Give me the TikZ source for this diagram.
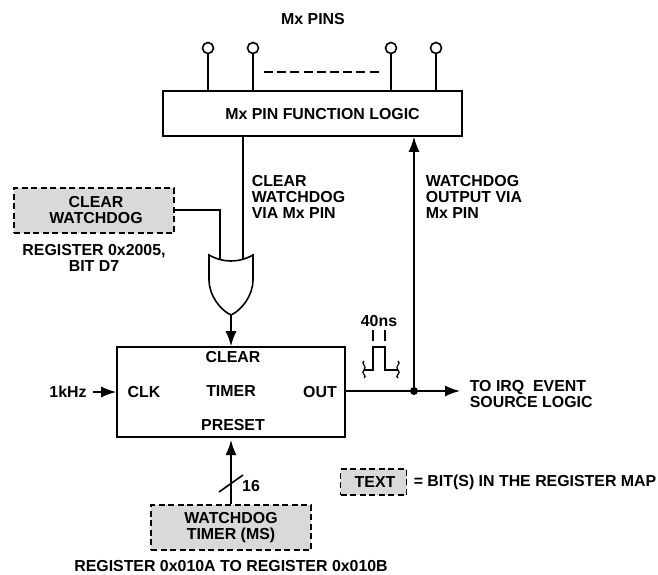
\documentclass[tikz,border=0pt]{standalone}
\usepackage{fontspec}
\setmainfont{Liberation Sans}
\usetikzlibrary{arrows.meta}
\begin{document}
\begin{tikzpicture}[x=1pt,y=-1pt,line width=1.6pt,line cap=butt,line join=miter,
  flow/.style={-{Latex[length=15pt,width=11pt]},line width=1.6pt},
  block/.style={draw,inner sep=0pt,fill=white},
  regbox/.style={draw,dash pattern=on 6pt off 3.5pt,fill=black!15,inner sep=0pt},
  label/.style={font=\fontsize{15.9}{16}\selectfont\bfseries,inner sep=0pt,align=center},
  pin/.style={circle,draw,fill=white,minimum size=11pt,inner sep=0pt}]
  \useasboundingbox (0,0) rectangle (658,575);
  % pins and logic
  \node[label] (pinstitle) at (313,19) {Mx PINS};
  \node[block,minimum width=299pt,minimum height=45pt] (logic) at (312.5,113.5) {};
  \node[label] (logictext) at (322.5,114) {Mx PIN FUNCTION LOGIC};
  \foreach \pinname/\pinx in {pina/208,pinb/253,pinc/391,pind/436} {
    \node[pin] (\pinname) at (\pinx,48) {};
    \draw (\pinname) -- (\pinname |- logic.north);
  }
  \coordinate (dotsleft) at (264,72);
  \coordinate (dotsright) at (381,72);
  \draw[dash pattern=on 9pt off 4.2pt,line width=1.3pt] (dotsleft) -- (dotsright);
  % registers
  \node[regbox,minimum width=160pt,minimum height=45pt] (clearreg) at (94,210.5) {};
  \node[label] (cleartext) at (96,210.5) {CLEAR\\WATCHDOG};
  \node[label] (clearaddr) at (94,258) {REGISTER 0x2005,\\BIT D7};
  \node[label,align=left,anchor=west] (clearvia) at (251,197) {CLEAR\\WATCHDOG\\VIA Mx PIN};
  \node[label,align=left,anchor=west] (outvia) at (425,197) {WATCHDOG\\OUTPUT VIA\\Mx PIN};
  % or gate
  \coordinate (gatea) at (220,259);
  \coordinate (gateb) at (243,259);
  \coordinate (gateout) at (231,315);
  \draw (clearreg.east |- 0,210) -| (gatea);
  \draw (logic.south -| gateb) -- (gateb);
  \draw[fill=white] (209,255) .. controls (216,259) and (224,261) .. (231,261)
    .. controls (238,261) and (246,259) .. (253,255)
    -- (253,280) .. controls (253,295) and (242,310) .. (gateout)
    .. controls (220,310) and (209,295) .. (209,280) -- cycle;
  % timer
  \node[block,minimum width=228pt,minimum height=90pt] (timer) at (231,392) {};
  \node[label] (timerclear) at (233,357) {CLEAR};
  \node[label] (timername) at (231,391) {TIMER};
  \node[label] (timerpreset) at (233,425) {PRESET};
  \node[label] (timerclk) at (144,392) {CLK};
  \node[label] (timerout) at (320,392) {OUT};
  \node[label] (clkin) at (68,392) {1kHz};
  \draw[flow] (gateout) -- (timer.north -| gateout);
  \draw[flow] (clkin.east) ++(6,0) -- (timer.west |- clkin);
  % timer inputs
  \node[regbox,minimum width=160pt,minimum height=45pt] (wdreg) at (231,527.5) {};
  \node[label] (wdtext) at (231,527.5) {WATCHDOG\\TIMER (MS)};
  \node[label] (wdaddr) at (231,566.5) {REGISTER 0x010A TO REGISTER 0x010B};
  \coordinate (presetin) at (231,440);
  \draw[flow] (wdreg.north) -- (presetin);
  \coordinate (slasha) at (219,492);
  \coordinate (slashb) at (243,475);
  \draw (slasha) -- (slashb);
  \node[label] (buswidth) at (251,486) {16};
  % output
  \coordinate (tap) at (414,391);
  \node[label,align=left,anchor=west] (irqtext) at (469,394) {TO IRQ\ \ EVENT\\SOURCE LOGIC};
  \coordinate (irqin) at (460,391);
  \draw[flow] (timer.east |- tap) -- (irqin);
  \draw[flow] (tap) -- (tap |- logic.south);
  \fill (tap) circle (4pt);
  % pulse
  \node[label] (pulsewidth) at (379,321) {40ns};
  \foreach \tickx in {373,385}
    \draw[line width=1.3pt] (\tickx,330) -- (\tickx,341);
  \draw (364,370) -- (373,370) -- (373,347) -- (385,347) -- (385,370) -- (398,370);
  \foreach \wavex/\wavedir in {364/-1,398/1} {
    \draw[line width=1.2pt] (\wavex,361)
      .. controls ({\wavex+\wavedir*4},363) and ({\wavex-\wavedir*4},367) .. (\wavex,370)
      .. controls ({\wavex+\wavedir*4},373) and ({\wavex-\wavedir*4},376) .. (\wavex,378);
  }
  % key
  \node[regbox,minimum width=66pt,minimum height=26pt] (keybox) at (373.5,482) {};
  \node[label] (keytext) at (375,482) {TEXT};
  \node[label,anchor=west] (keyrule) at (413,482) {= BIT(S) IN THE REGISTER MAP};
\end{tikzpicture}
\end{document}
